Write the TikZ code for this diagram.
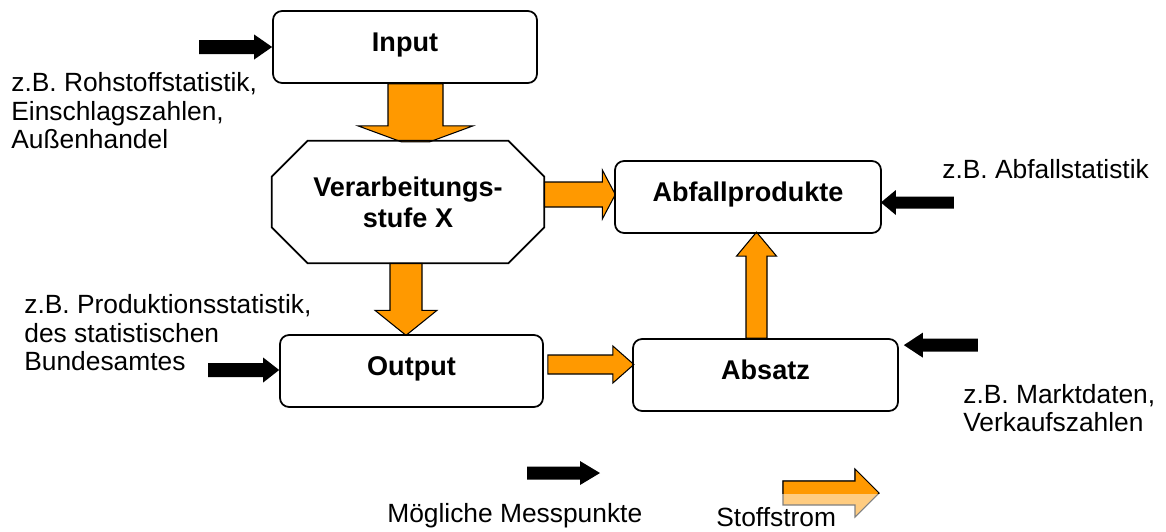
\documentclass[tikz,border=0pt]{standalone}
\usepackage{fontspec}
\setmainfont{Liberation Sans}
\usetikzlibrary{calc}
\pgfdeclarelayer{background}
\pgfsetlayers{background,main}
\definecolor{flow}{RGB}{255,153,0}
\definecolor{flowlight}{RGB}{255,204,128}
\begin{document}
\begin{tikzpicture}[x=0.02cm,y=-0.02cm,
  font=\fontsize{15pt}{16.2pt}\selectfont,
  box/.style={draw, line width=1pt, rounded corners=0.18cm,
    font=\fontsize{15.4pt}{16.2pt}\selectfont\bfseries,
    text height=0.4cm, text depth=0.24cm, inner sep=0pt},
  flowarrow/.style={fill=flow, draw=black, line width=0.6pt, line join=miter},
  measure/.style={fill=black},
  note/.style={inner sep=0pt, align=left},
]
\useasboundingbox (0,0) rectangle (1166,531);

% process boxes
\node[box, minimum width=5.28cm, minimum height=1.44cm] (in) at (405,47) {Input};
\node[inner sep=0pt, minimum width=5.44cm, minimum height=2.44cm, align=center,
      font=\fontsize{15.4pt}{17.5pt}\selectfont\bfseries] (oct) at (408,202) {Verarbeitungs-\\stufe X};
\draw[line width=1pt] ([xshift=0.72cm]oct.north west) -- ([xshift=-0.72cm]oct.north east)
  -- ([yshift=-0.72cm]oct.north east) -- ([yshift=0.72cm]oct.south east)
  -- ([xshift=-0.72cm]oct.south east) -- ([xshift=0.72cm]oct.south west)
  -- ([yshift=0.72cm]oct.south west) -- ([yshift=-0.72cm]oct.north west) -- cycle;
\node[box, minimum width=5.32cm, minimum height=1.44cm] (abf) at (748,197) {Abfallprodukte};
\node[box, minimum width=5.26cm, minimum height=1.44cm] (out) at (411.5,371) {Output};
\node[box, minimum width=5.30cm, minimum height=1.44cm] (abs) at (765.5,375) {Absatz};

% material flow arrows
\begin{pgfonlayer}{background}
\draw[flowarrow, shift={($(in.south)+(10.5,0)$)}]
  (-27.5,0) -- (27.5,0) -- (27.5,42) -- (57.5,42) -- (14,58) -- (-14,58) -- (-57.5,42) -- (-27.5,42) -- cycle;
\draw[flowarrow, shift={($(oct.south)+(-2,0)$)}]
  (-16,0) -- (16,0) -- (16,47) -- (31,47) -- (0,72) -- (-31,47) -- (-16,47) -- cycle;
\draw[flowarrow, shift={($(oct.east)+(0,-7.5)$)}]
  (0,-12.5) -- (58,-12.5) -- (58,-24.5) -- (71,0) -- (58,24.5) -- (58,12.5) -- (0,12.5) -- cycle;
\draw[flowarrow, shift={($(out.east)+(4,-6.5)$)}]
  (0,-9.5) -- (65,-9.5) -- (65,-18.5) -- (86,0) -- (65,18.5) -- (65,9.5) -- (0,9.5) -- cycle;
\draw[flowarrow, shift={($(abs.north)+(-9,0)$)}]
  (-10.5,0) -- (-10.5,-82) -- (-20,-82) -- (0,-106) -- (20,-82) -- (10.5,-82) -- (10.5,0) -- cycle;
\end{pgfonlayer}

% measurement points
\fill[measure, shift={(in.west)}]
  (-73,-7) -- (-18,-7) -- (-18,-12.5) -- (0,0) -- (-18,12.5) -- (-18,7) -- (-73,7) -- cycle;
\fill[measure, shift={($(out.west)+(0,-1)$)}]
  (-71,-7) -- (-16,-7) -- (-16,-12.5) -- (0,0) -- (-16,12.5) -- (-16,7) -- (-71,7) -- cycle;
\fill[measure, shift={($(abf.east)+(-1,5.5)$)}]
  (0,0) -- (15,-12.5) -- (15,-6) -- (73,-6) -- (73,6) -- (15,6) -- (15,12.5) -- cycle;
\fill[measure, shift={($(abs.north east)+(5,7)$)}]
  (0,0) -- (19,-12.5) -- (19,-6.5) -- (74,-6.5) -- (74,6.5) -- (19,6.5) -- (19,12.5) -- cycle;

% texts
\node[note, anchor=west] (t1) at (11,111) {z.B. Rohstoffstatistik,\\Einschlagszahlen,\\Außenhandel};
\node[note, anchor=west] (t2) at (24,333) {z.B. Produktionsstatistik,\\des statistischen\\Bundesamtes};
\node[note, anchor=base west] (t3) at (942,178) {z.B. Abfallstatistik};
\node[note, anchor=west] (t4) at (963,408) {z.B. Marktdaten,\\Verkaufszahlen};

% legend
\coordinate (legm) at (600,473);
\fill[measure, shift={(legm)}]
  (-73,-6.5) -- (-20,-6.5) -- (-20,-12) -- (0,0) -- (-20,12) -- (-20,6.5) -- (-73,6.5) -- cycle;
\node[note, anchor=base west] (t5) at (387,522) {Mögliche Messpunkte};
\coordinate (legs) at (879,493);
\def\stoffshape{(-96,-12) -- (-24,-12) -- (-24,-24) -- (0,0) -- (-24,24) -- (-24,12) -- (-96,12) -- cycle}
\path[fill=flowlight, draw=gray, line width=0.6pt, shift={(legs)}] \stoffshape;
\begin{scope}
  \clip (760,440) rectangle (900,493);
  \path[fill=flow, draw=black, line width=0.6pt, shift={(legs)}] \stoffshape;
\end{scope}
\node[note, anchor=base west] (t6) at (716,526) {Stoffstrom};
\end{tikzpicture}
\end{document}
